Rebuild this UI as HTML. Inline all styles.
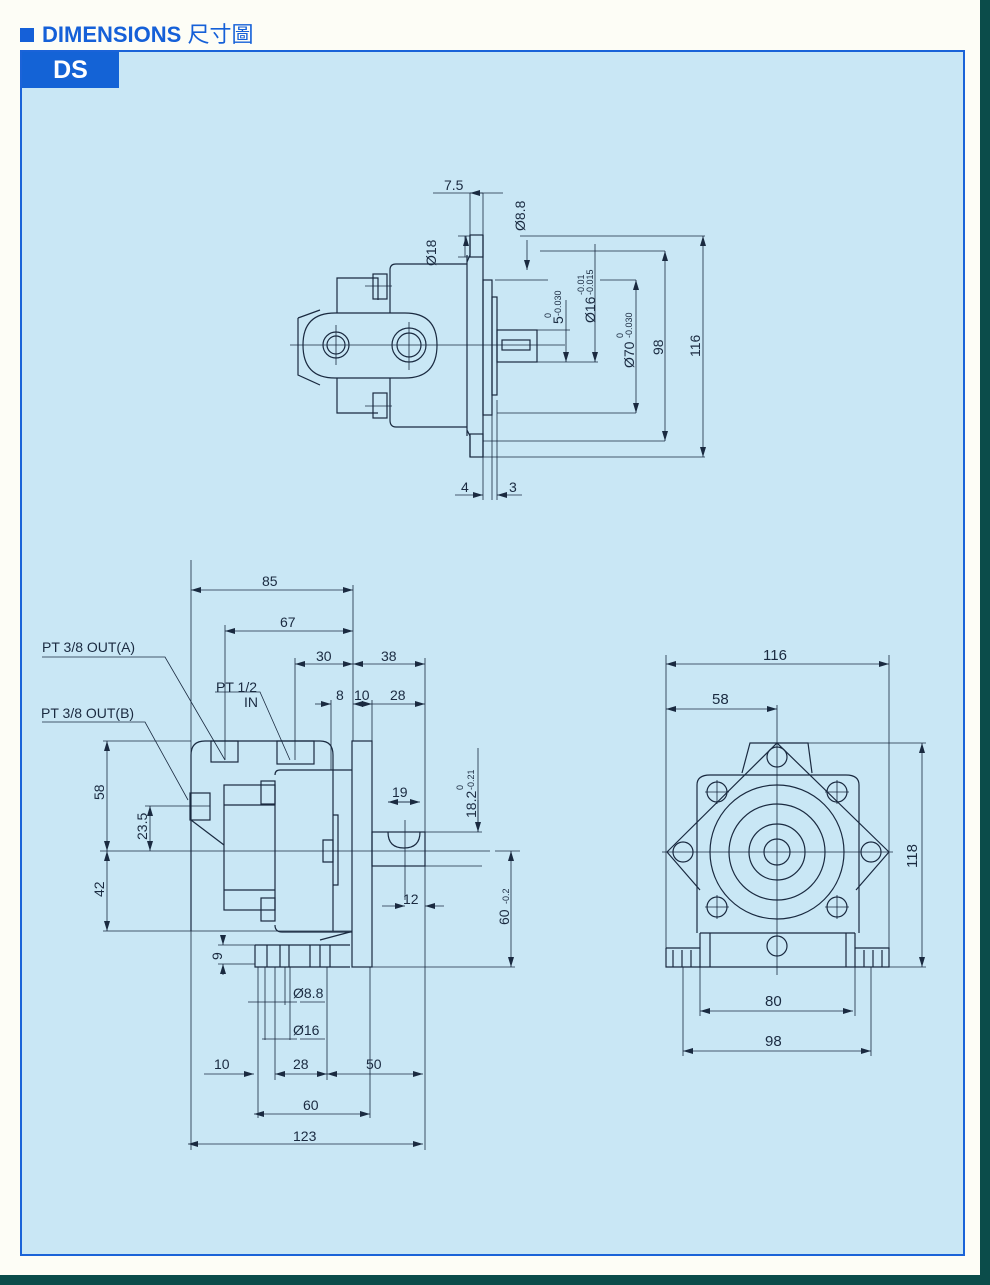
<!DOCTYPE html>
<html><head><meta charset="utf-8"><style>
html,body{margin:0;padding:0}
body{width:990px;height:1285px;background:#fdfdf6;position:relative;overflow:hidden;font-family:"Liberation Sans",sans-serif}
.tealr{position:absolute;left:980px;top:0;width:10px;height:1285px;background:#0b4c4a}
.tealb{position:absolute;left:0;top:1275px;width:990px;height:10px;background:#0b4c4a}
.panel{position:absolute;left:20px;top:50px;width:941px;height:1202px;background:#c9e7f5;border:2px solid #1a63d8}
.hdr{position:absolute;left:20px;top:17px;font:bold 22px "Liberation Sans","Noto Sans CJK TC",sans-serif;color:#1560d8;letter-spacing:0}
.hdr span{display:inline-block;width:14px;height:14px;background:#1560d8;margin-right:8px;vertical-align:0}
.ds{position:absolute;left:22px;top:52px;width:97px;height:36px;background:#1463d6;color:#fff;font:bold 25px "Liberation Sans",sans-serif;text-align:center;line-height:36px}
svg{position:absolute;left:0;top:0}
</style></head><body>
<div class="panel"></div>
<div class="tealr"></div><div class="tealb"></div>
<div class="hdr"><span></span>DIMENSIONS <b style="font-weight:normal">尺寸圖</b></div>
<div class="ds">DS</div>
<svg width="990" height="1285" viewBox="0 0 990 1285">
<defs>
<marker id="a" viewBox="0 0 10 6" refX="10" refY="3" markerWidth="10" markerHeight="6" orient="auto-start-reverse" markerUnits="userSpaceOnUse"><path d="M0,0L10,3L0,6z" fill="#1a2a40"/></marker>
</defs>
<g fill="none" stroke="#1a2a40" stroke-width="1.2">
<path d="M303,345 Q303,313 335,313 L405,313 Q437,313 437,345 Q437,378 405,378 L335,378 Q303,378 303,345Z"/>
<path d="M298,318 L320,310 M298,318 L298,375 L320,385"/>
<circle cx="336" cy="345" r="13"/><circle cx="336" cy="345" r="9"/>
<circle cx="409" cy="345" r="17"/><circle cx="409" cy="345" r="12"/>
<path d="M337,313 L337,278 L378,278 L378,300 M337,378 L337,413 L378,413"/>
<rect x="373" y="274" width="14" height="25"/><rect x="373" y="393" width="14" height="25"/>
<path d="M390,313 L390,270 Q390,264 396,264 L467,264 M390,378 L390,420 Q390,427 396,427 L467,427"/>
<path d="M467,255 L467,436 M483,235 L483,457 M470,235 L470,255 L467,262 M470,457 L470,436 L467,430"/>
<rect x="470" y="235" width="13" height="22"/><rect x="470" y="434" width="13" height="23"/>
<rect x="483" y="280" width="9" height="135"/>
<rect x="492" y="297" width="5" height="98"/>
<rect x="497" y="330" width="40" height="32"/>
<rect x="502" y="340" width="28" height="10"/>
<g stroke-width="0.8">
<path d="M290,345 L565,345 M336,325 L336,365 M409,322 L409,370 M365,286 L392,286 M365,406 L392,406"/>
<path d="M470,193 L470,235 M483,193 L483,235 M433,193 L503,193" />
<path d="M483,193 L470,193" marker-end="url(#a)"/>
<path d="M520,236 L705,236 M540,251 L665,251 M600,280 L636,280 M495,280 L548,280 M537,330 L570,330 M537,362 L598,362"/>
<path d="M497,413 L636,413 M483,441 L665,441 M483,457 L705,457"/>
<path d="M527,240 L527,270" marker-end="url(#a)"/>
<path d="M465,236 L465,257 M458,236 L470,236 M458,257 L470,257"/>
<path d="M466,240 L466,236" marker-end="url(#a)"/>
<path d="M566,300 L566,362" marker-end="url(#a)"/>
<path d="M595,244 L595,362" marker-end="url(#a)"/>
<path d="M636,280 L636,413" marker-start="url(#a)" marker-end="url(#a)"/>
<path d="M665,251 L665,441" marker-start="url(#a)" marker-end="url(#a)"/>
<path d="M703,236 L703,457" marker-start="url(#a)" marker-end="url(#a)"/>
<path d="M483,457 L483,500 M492,415 L492,500 M497,400 L497,500"/>
<path d="M455,495 L483,495" marker-end="url(#a)"/><path d="M522,495 L497,495" marker-end="url(#a)"/>
</g>

<path d="M191,931 L191,755 Q191,741 205,741 L320,741 Q333,741 333,755 L333,931"/>
<rect x="211" y="741" width="27" height="21"/><rect x="277" y="741" width="37" height="23"/>
<rect x="190" y="793" width="20" height="27"/>
<path d="M191,820 L224,845"/>
<rect x="224" y="785" width="51" height="125"/>
<path d="M224,805 L275,805 M224,890 L275,890"/>
<rect x="261" y="781" width="14" height="23"/><rect x="261" y="898" width="14" height="23"/>
<path d="M275,775 Q275,770 280,770 L352,770 M275,925 Q275,932 282,932 L352,932"/>
<rect x="352" y="741" width="20" height="226"/>
<path d="M333,815 L338,815 L338,885 L333,885 M323,840 L333,840 L333,862 L323,862Z"/>
<rect x="372" y="832" width="53" height="34"/>
<path d="M388,832 Q388,848 404,848 Q420,848 420,832"/>
<path d="M255,945 L350,945 M255,945 L255,967 L350,967 M267,945 L267,967 M280,945 L280,967 M289,945 L289,967 M310,945 L310,967 M320,945 L320,967 M330,945 L330,967 M320,940 L350,932"/>
<g stroke-width="0.8">
<path d="M191,560 L191,1150 M353,585 L353,741 M225,625 L225,760 M295,658 L295,760 M425,658 L425,1150 M331,700 L331,770 M372,700 L372,741"/>
<path d="M191,590 L353,590" marker-start="url(#a)" marker-end="url(#a)"/>
<path d="M225,631 L353,631" marker-start="url(#a)" marker-end="url(#a)"/>
<path d="M295,664 L353,664" marker-start="url(#a)" marker-end="url(#a)"/>
<path d="M353,664 L425,664" marker-start="url(#a)" marker-end="url(#a)"/>
<path d="M315,704 L331,704" marker-end="url(#a)"/><path d="M353,704 L372,704" marker-start="url(#a)" marker-end="url(#a)"/><path d="M372,704 L425,704" marker-end="url(#a)"/>
<path d="M42,657 L165,657 L225,760 M42,722 L145,722 L188,800 M215,692 L260,692 L290,760"/>
<path d="M103,741 L191,741 M103,931 L352,931 M145,806 L210,806 M100,851 L490,851 M495,851 L520,851"/>
<path d="M107,741 L107,851" marker-start="url(#a)" marker-end="url(#a)"/>
<path d="M107,851 L107,931" marker-start="url(#a)" marker-end="url(#a)"/>
<path d="M150,806 L150,851" marker-start="url(#a)" marker-end="url(#a)"/>
<path d="M405,820 L405,900 M388,802 L417,802" />
<path d="M388,802 L420,802" marker-start="url(#a)" marker-end="url(#a)"/>
<path d="M382,906 L405,906" marker-end="url(#a)"/><path d="M444,906 L425,906" marker-end="url(#a)"/>
<path d="M425,832 L482,832 M425,866 L482,866 M478,748 L478,832" /><path d="M478,800 L478,832" marker-end="url(#a)"/>
<path d="M372,967 L515,967"/>
<path d="M511,851 L511,967" marker-start="url(#a)" marker-end="url(#a)"/>
<path d="M218,945 L255,945 M218,964 L255,964"/>
<path d="M223,935 L223,945" marker-end="url(#a)"/><path d="M223,975 L223,964" marker-end="url(#a)"/>
<path d="M258,967 L258,1118 M265,967 L265,1040 M275,967 L275,1080 M290,967 L290,1040 M285,967 L285,1005 M327,967 L327,1080 M370,967 L370,1118"/>
<path d="M248,1002 L297,1002"/><path d="M300,1002 L325,1002"/>
<path d="M262,1039 L297,1039"/><path d="M300,1039 L325,1039"/>
<path d="M204,1074 L254,1074" marker-end="url(#a)"/>
<path d="M275,1074 L327,1074" marker-start="url(#a)" marker-end="url(#a)"/>
<path d="M327,1074 L423,1074" marker-start="url(#a)" marker-end="url(#a)"/>
<path d="M254,1114 L370,1114" marker-start="url(#a)" marker-end="url(#a)"/>
<path d="M188,1144 L423,1144" marker-start="url(#a)" marker-end="url(#a)"/>
</g>

<path d="M742,773 L750,743 L808,743 L812,773"/>
<path d="M697,933 L697,785 Q697,775 710,775 L846,775 Q859,775 859,785 L859,933"/>
<path d="M667,852 L777,743 L889,852 M667,852 L700,890 M889,852 L856,890"/>
<circle cx="777" cy="852" r="67"/><circle cx="777" cy="852" r="48"/><circle cx="777" cy="852" r="28"/><circle cx="777" cy="852" r="13"/>
<circle cx="777" cy="757" r="10"/><circle cx="717" cy="792" r="10"/><circle cx="837" cy="792" r="10"/>
<circle cx="683" cy="852" r="10"/><circle cx="871" cy="852" r="10"/>
<circle cx="717" cy="907" r="10"/><circle cx="837" cy="907" r="10"/><circle cx="777" cy="946" r="10"/>
<path d="M700,933 L855,933 M700,933 L700,967 L855,967 L855,933 M710,933 L710,967 M846,933 L846,967"/>
<path d="M666,948 L700,948 M666,948 L666,967 L700,967 M673,950 L673,967 M682,950 L682,967 M691,950 L691,967"/>
<path d="M855,948 L889,948 L889,967 L855,967 M864,950 L864,967 M873,950 L873,967 M882,950 L882,967"/>
<g stroke-width="0.8">
<path d="M662,852 L893,852 M777,705 L777,975 M705,792 L729,792 M825,792 L849,792 M705,907 L729,907 M825,907 L849,907 M717,780 L717,804 M837,780 L837,804 M717,895 L717,919 M837,895 L837,919"/>
<path d="M666,655 L666,950 M889,655 L889,950 M683,967 L683,1056 M871,967 L871,1056 M700,967 L700,1016 M855,967 L855,1016"/>
<path d="M666,664 L889,664" marker-start="url(#a)" marker-end="url(#a)"/>
<path d="M666,709 L777,709" marker-start="url(#a)" marker-end="url(#a)"/>
<path d="M808,743 L926,743 M889,967 L926,967"/>
<path d="M922,743 L922,967" marker-start="url(#a)" marker-end="url(#a)"/>
<path d="M700,1011 L853,1011" marker-start="url(#a)" marker-end="url(#a)"/>
<path d="M683,1051 L871,1051" marker-start="url(#a)" marker-end="url(#a)"/>
</g>
</g>

<g font-family="Liberation Sans, sans-serif" font-size="14" fill="#1a2a40">
<text x="444" y="190">7.5</text>
<text transform="translate(525,231) rotate(-90)">Ø8.8</text>
<text transform="translate(436,266) rotate(-90)">Ø18</text>
<text transform="translate(563,324) rotate(-90)">5</text>
<text transform="translate(551,318) rotate(-90)" font-size="9">0</text>
<text transform="translate(561,316) rotate(-90)" font-size="9">-0.030</text>
<text transform="translate(595,323) rotate(-90)">Ø16</text>
<text transform="translate(584,295) rotate(-90)" font-size="9">-0.01</text>
<text transform="translate(593,295) rotate(-90)" font-size="9">-0.015</text>
<text transform="translate(634,368) rotate(-90)">Ø70</text>
<text transform="translate(623,338) rotate(-90)" font-size="9">0</text>
<text transform="translate(632,338) rotate(-90)" font-size="9">-0.030</text>
<text transform="translate(663,355) rotate(-90)">98</text>
<text transform="translate(700,357) rotate(-90)">116</text>
<text x="461" y="492">4</text><text x="509" y="492">3</text>

<text x="262" y="586">85</text>
<text x="280" y="627">67</text>
<text x="316" y="661">30</text>
<text x="381" y="661">38</text>
<text x="42" y="652">PT 3/8 OUT(A)</text>
<text x="216" y="692">PT 1/2</text>
<text x="244" y="707">IN</text>
<text x="41" y="718">PT 3/8 OUT(B)</text>
<text x="336" y="700">8</text><text x="354" y="700">10</text><text x="390" y="700">28</text>
<text transform="translate(104,800) rotate(-90)">58</text>
<text transform="translate(104,897) rotate(-90)">42</text>
<text transform="translate(147,840) rotate(-90)">23.5</text>
<text x="392" y="797">19</text>
<text x="403" y="904">12</text>
<text transform="translate(476,818) rotate(-90)">18.2</text>
<text transform="translate(463,790) rotate(-90)" font-size="9">0</text>
<text transform="translate(474,790) rotate(-90)" font-size="9">-0.21</text>
<text transform="translate(509,925) rotate(-90)">60</text>
<text transform="translate(509,904) rotate(-90)" font-size="9">-0.2</text>
<text transform="translate(222,960) rotate(-90)">9</text>
<text x="293" y="998">Ø8.8</text>
<text x="293" y="1035">Ø16</text>
<text x="214" y="1069">10</text>
<text x="293" y="1069">28</text>
<text x="366" y="1069">50</text>
<text x="303" y="1110">60</text>
<text x="293" y="1141">123</text>

<text x="763" y="660" font-size="15">116</text>
<text x="712" y="704" font-size="15">58</text>
<text transform="translate(917,868) rotate(-90)" font-size="15">118</text>
<text x="765" y="1006" font-size="15">80</text>
<text x="765" y="1046" font-size="15">98</text>
</g>
</svg>
</body></html>
